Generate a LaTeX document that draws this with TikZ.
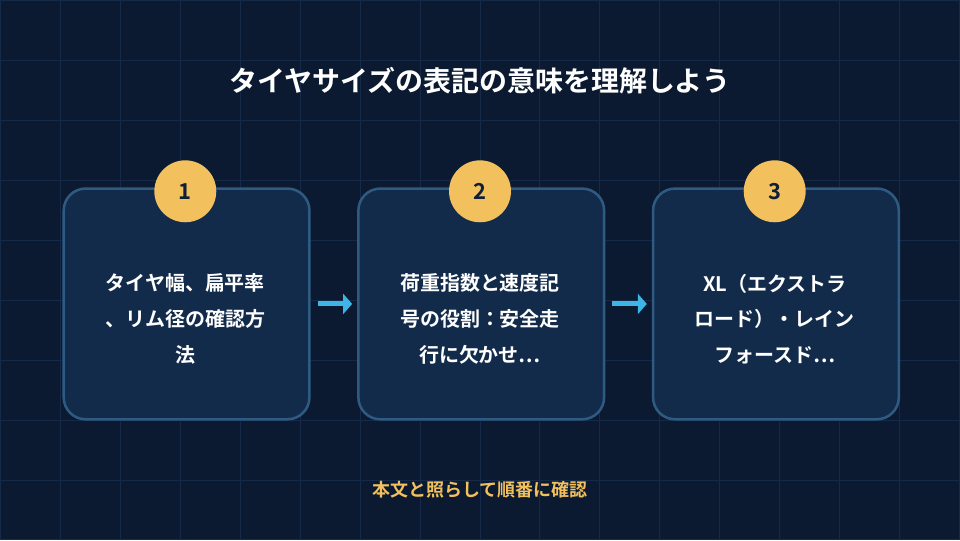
\documentclass[tikz,border=0pt]{standalone}
\usepackage{fontspec}
\setmainfont{Noto Sans CJK JP}[BoldFont={Noto Sans CJK JP Bold}]
\usetikzlibrary{arrows.meta}
\definecolor{bgnavy}{HTML}{0B1A30}
\definecolor{gridblue}{HTML}{152A48}
\definecolor{cardfill}{HTML}{132B4B}
\definecolor{cardline}{HTML}{2F5B82}
\definecolor{badge}{HTML}{F2C05C}
\definecolor{badgetext}{HTML}{0F1F38}
\definecolor{flow}{HTML}{3DB5E6}
\tikzset{
	card/.style  = {draw=cardline, fill=cardfill, line width=2.5pt, rounded corners=22pt,
		minimum width=246pt, minimum height=231pt, anchor=north west},
	cardtxt/.style = {text=white, font=\fontsize{20}{36}\selectfont\bfseries, align=center},
	badge/.style = {circle, fill=badge, minimum size=62pt, inner sep=0pt,
		text=badgetext, font=\fontsize{22}{24}\selectfont\bfseries},
	flowarrow/.style  = {-{Triangle[length=9pt,width=20pt]}, flow, line width=5pt}
}

\begin{document}
\begin{tikzpicture}[x=1pt, y=-1pt]

	% background and grid
	\fill[bgnavy] (0,0) rectangle (960,540);
	\foreach \i in {0,60,...,960} \draw[gridblue, line width=1pt] (\i,0) -- (\i,540);
	\foreach \j in {0,60,...,540} \draw[gridblue, line width=1pt] (0,\j) -- (960,\j);
	\useasboundingbox (0,0) rectangle (960,540);

	\node[text=white, font=\fontsize{28}{30}\selectfont\bfseries] (title) at (480,80) {タイヤサイズの表記の意味を理解しよう};

	\node[card] (c1) at (62,187) {};
	\node[card] (c2) at (357,187) {};
	\node[card] (c3) at (652,187) {};

	\node[badge] (b1) at (185,191) {1};
	\node[badge] (b2) at (480,191) {2};
	\node[badge] (b3) at (775,191) {3};

	\node[cardtxt] (t1) at (185,319) {タイヤ幅、扁平率\\、リム径の確認方\\法};
	\node[cardtxt] (t2) at (480,319) {荷重指数と速度記\\号の役割：安全走\\行に欠かせ…};
	\node[cardtxt] (t3) at (775,319) {XL（エクストラ\\ロード）・レイン\\フォースド…};

	\draw[flowarrow] ([xshift=7pt]c1.east) -- ([xshift=-5pt]c2.west);
	\draw[flowarrow] ([xshift=7pt]c2.east) -- ([xshift=-5pt]c3.west);

	\node[text=badge, font=\fontsize{18}{20}\selectfont\bfseries] (note) at (480,490) {本文と照らして順番に確認};

\end{tikzpicture}
\end{document}
